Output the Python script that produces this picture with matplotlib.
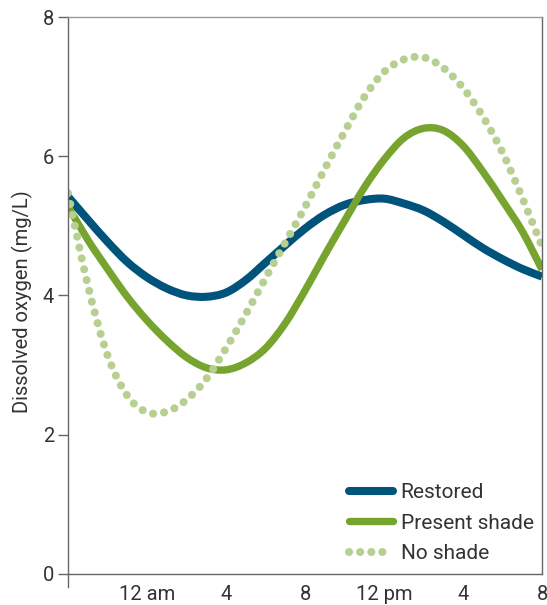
import numpy as np
import matplotlib.pyplot as plt
from matplotlib.path import Path
from matplotlib.patches import PathPatch
from matplotlib.lines import Line2D

# hours after 8 pm
hours = np.arange(0, 25)

restored = [5.42, 5.09, 4.77, 4.48, 4.26, 4.10, 4.00, 3.98, 4.04, 4.22, 4.47, 4.72, 4.96,
            5.16, 5.30, 5.37, 5.39, 5.32, 5.22, 5.06, 4.87, 4.68, 4.52, 4.38, 4.27]
present_shade = [5.28, 4.80, 4.38, 3.98, 3.64, 3.35, 3.11, 2.96, 2.93, 3.03, 3.24, 3.60, 4.07,
                 4.58, 5.07, 5.55, 5.95, 6.26, 6.40, 6.37, 6.15, 5.78, 5.36, 4.92, 4.37]
no_shade = [5.47, 4.15, 3.14, 2.56, 2.32, 2.33, 2.50, 2.80, 3.24, 3.73, 4.25, 4.76, 5.27,
            5.82, 6.35, 6.85, 7.21, 7.39, 7.42, 7.27, 6.98, 6.57, 6.05, 5.40, 4.70]

tick_pos = [4, 8, 12, 16, 20, 24]
tick_labels = ['12 am', '4', '8', '12 pm', '4', '8']

c_rest = '#00547c'
c_pres = '#76a42e'
c_none = '#b7d092'


def smooth_path(x, y):
    # cubic bezier segments through the points (catmull-rom tangents)
    pts = np.column_stack([np.asarray(x, float), np.asarray(y, float)])
    n = len(pts)
    verts = [pts[0]]
    codes = [Path.MOVETO]
    for i in range(n - 1):
        p0 = pts[i - 1] if i > 0 else pts[i]
        p1 = pts[i]
        p2 = pts[i + 1]
        p3 = pts[i + 2] if i + 2 < n else pts[i + 1]
        verts += [p1 + (p2 - p0) / 6, p2 - (p3 - p1) / 6, p2]
        codes += [Path.CURVE4] * 3
    return Path(verts, codes)


plt.rcParams['font.family'] = ['Roboto', 'DejaVu Sans']

fig = plt.figure(figsize=(5.47, 6.05), dpi=100)
ax = fig.add_axes([0.1243, 0.0298, 0.8667, 0.9421])

ax.add_patch(PathPatch(smooth_path(hours, restored), fill=False, edgecolor=c_rest,
                       lw=5.8, capstyle='butt'))
ax.add_patch(PathPatch(smooth_path(hours, present_shade), fill=False, edgecolor=c_pres,
                       lw=5.3, capstyle='butt'))
ax.add_patch(PathPatch(smooth_path(hours, no_shade), fill=False, edgecolor=c_none,
                       lw=5.8, linestyle=(0, (0.01, 1.37)), capstyle='round'))

ax.set_xlim(0, 24)
ax.set_ylim(-0.19, 8)
ax.spines['bottom'].set_position(('data', 0))
ax.spines['right'].set_bounds(0, 8)
for s in ax.spines.values():
    s.set_color('#666666')
    s.set_linewidth(1.0)
ax.spines['top'].set_color('#999999')

ax.set_yticks([0, 2, 4, 6, 8])
ax.set_xticks(tick_pos)
ax.set_xticklabels(tick_labels)
ax.tick_params(axis='y', length=7, width=1, color='#666666', labelsize=14.5, labelcolor='#333333', pad=3)
ax.tick_params(axis='x', length=0, labelsize=14.5, labelcolor='#333333', pad=8)

ax.set_ylabel('Dissolved oxygen (mg/L)', fontsize=14.5, color='#333333', labelpad=7)

handles = [
    Line2D([], [], color=c_rest, lw=5.8, solid_capstyle='round'),
    Line2D([], [], color=c_pres, lw=5.3, solid_capstyle='round'),
    Line2D([], [], color=c_none, lw=5.8, linestyle=(0, (0.01, 1.37)), dash_capstyle='round'),
]
ax.legend(handles, ['Restored', 'Present shade', 'No shade'], loc='lower right',
          frameon=False, fontsize=15, handlelength=2.15, handletextpad=0.35,
          labelspacing=0.56, borderaxespad=0.0, bbox_to_anchor=(1.0, 0.027),
          labelcolor='#333333')

fig.savefig('out.png', dpi=100)
